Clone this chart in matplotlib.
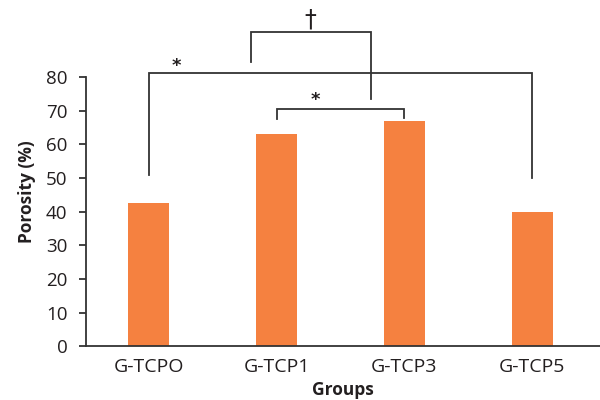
import numpy as np
import matplotlib.pyplot as plt

# data
groups = ['G-TCPO', 'G-TCP1', 'G-TCP3', 'G-TCP5']
porosity = [42.5, 63.0, 67.0, 40.0]

# significance brackets: (left x, right x, bar height, left drop, right drop, mark, mark x, mark y)
brackets = [
    (0, 3, 81.0, 50.8, 50.0, '*', 0.22, 80.6),
    (0.8, 1.74, 93.3, 84.3, 73.5, '\u2020', 1.26, 93.4),
    (1, 2, 70.6, 67.4, 67.7, '*', 1.30, 70.4),
]

plt.rcParams['font.family'] = ['Open Sans', 'DejaVu Sans']

fig = plt.figure(figsize=(6, 4), dpi=100)
ax = fig.add_axes([0.1428, 0.134, 0.8572, 0.866])

x = np.arange(len(groups))
ax.bar(x, porosity, width=0.32, color='#F58140')

# brackets
for x0, x1, yh, d0, d1, mark, mx, my in brackets:
    ax.plot([x0, x0, x1, x1], [d0, yh, yh, d1], color='#333333', lw=1.3,
            clip_on=False, solid_joinstyle='miter')
    if mark == '\u2020':
        ax.text(mx, my, mark, ha='center', va='bottom', fontsize=17,
                color='#231f20', family=['DejaVu Sans'])
    else:
        ax.text(mx, my, mark, ha='center', va='bottom', fontsize=13,
                fontweight='bold', color='#231f20', family=['DejaVu Sans'])

ax.set_xlim(-0.493, 3.53)
ax.set_ylim(0, 102.8)
ax.set_xticks(x)
ax.set_xticklabels(groups, fontsize=14, color='#231f20')
ax.set_yticks(np.arange(0, 81, 10))
ax.tick_params(axis='y', labelsize=13.5, length=5, width=1.3, pad=8,
               colors='#333333', labelcolor='#231f20')
ax.tick_params(axis='x', length=0, pad=8)

for s in ['top', 'right']:
    ax.spines[s].set_visible(False)
ax.spines['left'].set_bounds(0, 80)
ax.spines['left'].set_color('#333333')
ax.spines['bottom'].set_color('#333333')
ax.spines['left'].set_linewidth(1.3)
ax.spines['bottom'].set_linewidth(1.3)

ax.set_xlabel('Groups', fontsize=12.5, fontweight='bold', color='#231f20', labelpad=4)
fig.text(27 / 600, 1 - 192 / 400, 'Porosity (%)', rotation=90, ha='center',
         va='center', fontsize=12.5, fontweight='bold', color='#231f20')

fig.savefig('out.png', dpi=100)
